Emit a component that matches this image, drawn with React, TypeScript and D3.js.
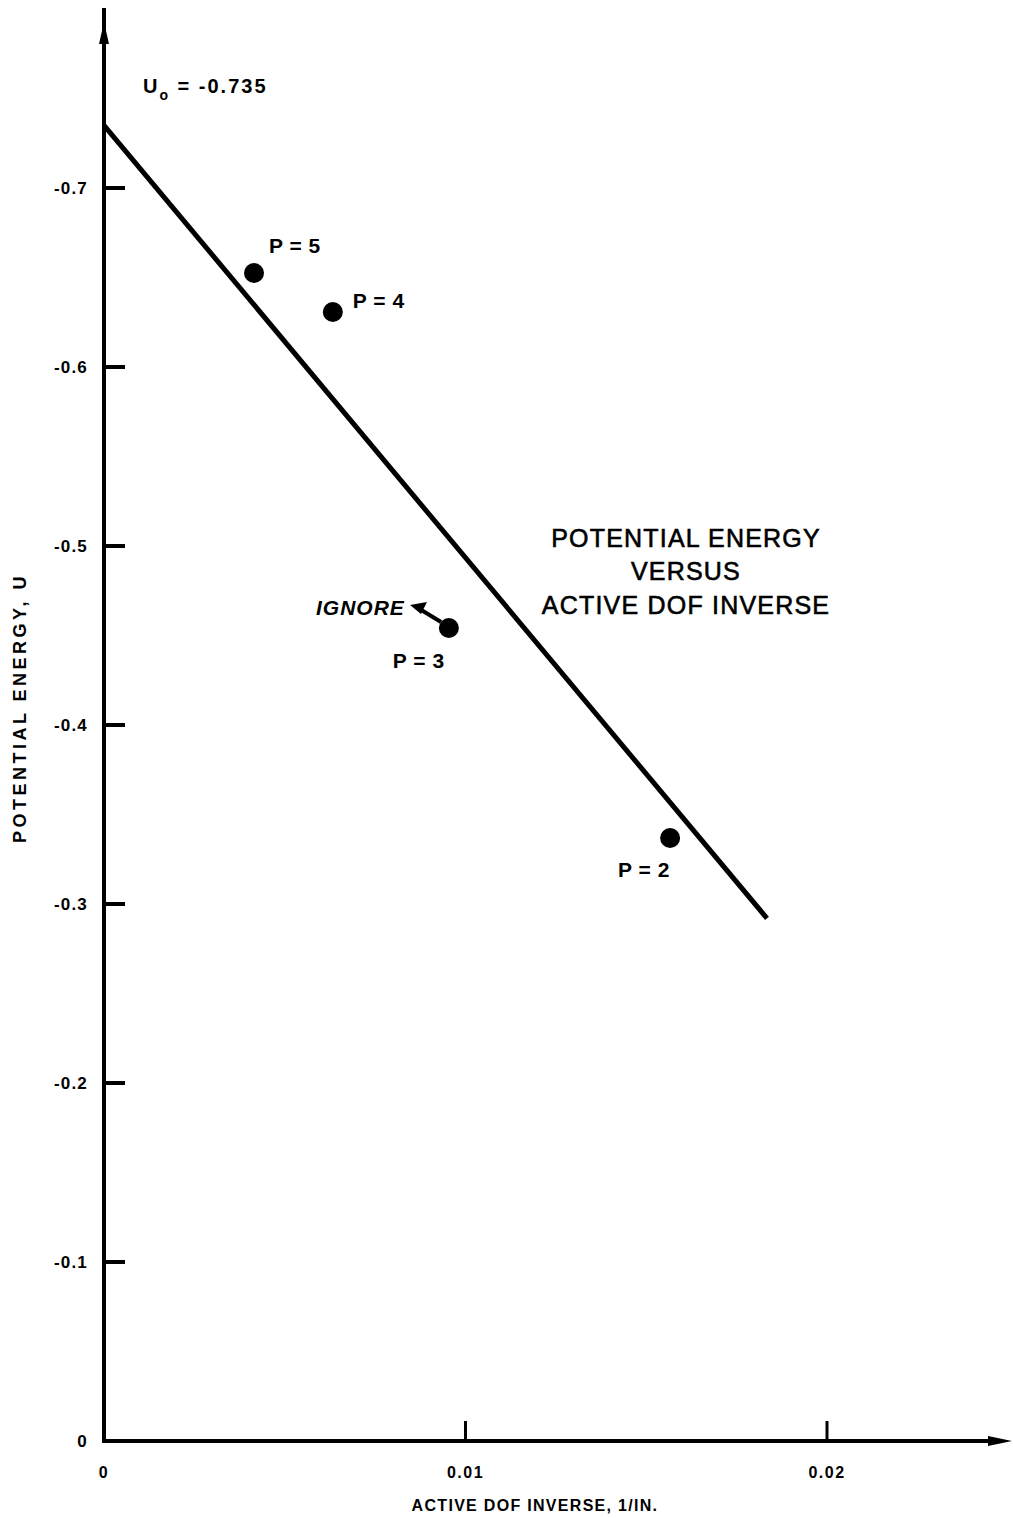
import React from "react";
import * as d3 from "d3";

// points
const labels = ["P = 5", "P = 4", "P = 3", "P = 2"];
const dofInverse = [0.00415, 0.00633, 0.00954, 0.01566];
const energy = [-0.6525, -0.6307, -0.4542, -0.3369];

// fitted straight line
const fitX = [0, 0.01834];
const fitU = [-0.735, -0.292];

const yTicks = [-0.7, -0.6, -0.5, -0.4, -0.3, -0.2, -0.1, 0];
const yTickLabels = ["-0.7", "-0.6", "-0.5", "-0.4", "-0.3", "-0.2", "-0.1", "0"];
const xTicks = [0, 0.01, 0.02];
const xTickLabels = ["0", "0.01", "0.02"];

const font = "'Liberation Sans', Arial, Helvetica, sans-serif";

function App() {
  const width = 1013;
  const height = 1518;
  const x = d3.scaleLinear().domain([0, 0.02]).range([104, 827]);
  const y = d3.scaleLinear().domain([0, -0.7]).range([1441, 188]);

  const linePath = d3
    .line<number>()
    .x((d) => x(d))
    .y((d, i) => y(fitU[i]))(fitX);

  // label offsets relative to the points
  const labelDx = [15, 20, -56, -52];
  const labelDy = [-20, -4, 40, 39];

  return (
    <svg
      width={width}
      height={height}
      style={{ position: "absolute", left: 0, top: 0, background: "#fff" }}
      fontFamily={font}
    >
      {/* y axis with arrow */}
      <line x1={x(0)} x2={x(0)} y1={y(0) + 2} y2={8} stroke="#000" strokeWidth={4} />
      <path d={`M${x(0) - 5},44 L${x(0)},22 L${x(0) + 5},44 Z`} fill="#000" />
      {/* x axis with arrow */}
      <line x1={x(0) - 2} x2={1000} y1={y(0)} y2={y(0)} stroke="#000" strokeWidth={4} />
      <path d={`M988,${y(0) - 5} L1012,${y(0)} L988,${y(0) + 5} Z`} fill="#000" />

      {yTicks.map((t, i) => (
        <g key={"yt" + i}>
          {t !== 0 && (
            <line x1={x(0)} x2={x(0) + 21} y1={y(t)} y2={y(t)} stroke="#000" strokeWidth={4} />
          )}
          <text
            x={88}
            y={y(t) + 6}
            textAnchor="end"
            fontSize={17}
            fontWeight="bold"
            letterSpacing={1.2}
          >
            {yTickLabels[i]}
          </text>
        </g>
      ))}

      {xTicks.map((t, i) => (
        <g key={"xt" + i}>
          {t !== 0 && (
            <line x1={x(t)} x2={x(t)} y1={y(0)} y2={y(0) - 20} stroke="#000" strokeWidth={3} />
          )}
          <text
            x={x(t)}
            y={1478}
            textAnchor="middle"
            fontSize={16}
            fontWeight="bold"
            letterSpacing={1.5}
          >
            {xTickLabels[i]}
          </text>
        </g>
      ))}

      <text
        x={535}
        y={1511}
        textAnchor="middle"
        fontSize={16}
        fontWeight="bold"
        letterSpacing={1.3}
      >
        ACTIVE DOF INVERSE, 1/IN.
      </text>
      <text
        transform="translate(26,708) rotate(-90)"
        textAnchor="middle"
        fontSize={18}
        fontWeight="bold"
        letterSpacing={3.5}
      >
        POTENTIAL ENERGY, U
      </text>

      {/* fitted line */}
      <path d={linePath || ""} fill="none" stroke="#000" strokeWidth={5} />

      {dofInverse.map((d, i) => (
        <g key={"p" + i}>
          <circle cx={x(d)} cy={y(energy[i])} r={10} fill="#000" />
          <text
            x={x(d) + labelDx[i]}
            y={y(energy[i]) + labelDy[i]}
            fontSize={21}
            fontWeight="bold"
            letterSpacing={0.5}
          >
            {labels[i]}
          </text>
        </g>
      ))}

      {/* IGNORE annotation pointing at P = 3 */}
      <text x={316} y={615} fontSize={21} fontWeight="bold" fontStyle="italic" letterSpacing={1}>
        IGNORE
      </text>
      <line x1={418} y1={608} x2={441} y2={622} stroke="#000" strokeWidth={4} />
      <path d="M410,605 L427,602 L421,614 Z" fill="#000" />

      <text x={143} y={93} fontSize={20} fontWeight="bold" letterSpacing={2}>
        U
        <tspan dy={7} fontSize={14}>o</tspan>
        <tspan dy={-7}> = -0.735</tspan>
      </text>

      <g fontSize={25} textAnchor="middle" letterSpacing={1.2} stroke="#000" strokeWidth={0.6}>
        <text x={686} y={547}>POTENTIAL ENERGY</text>
        <text x={686} y={580}>VERSUS</text>
        <text x={686} y={614}>ACTIVE DOF INVERSE</text>
      </g>
    </svg>
  );
}

export default App;
